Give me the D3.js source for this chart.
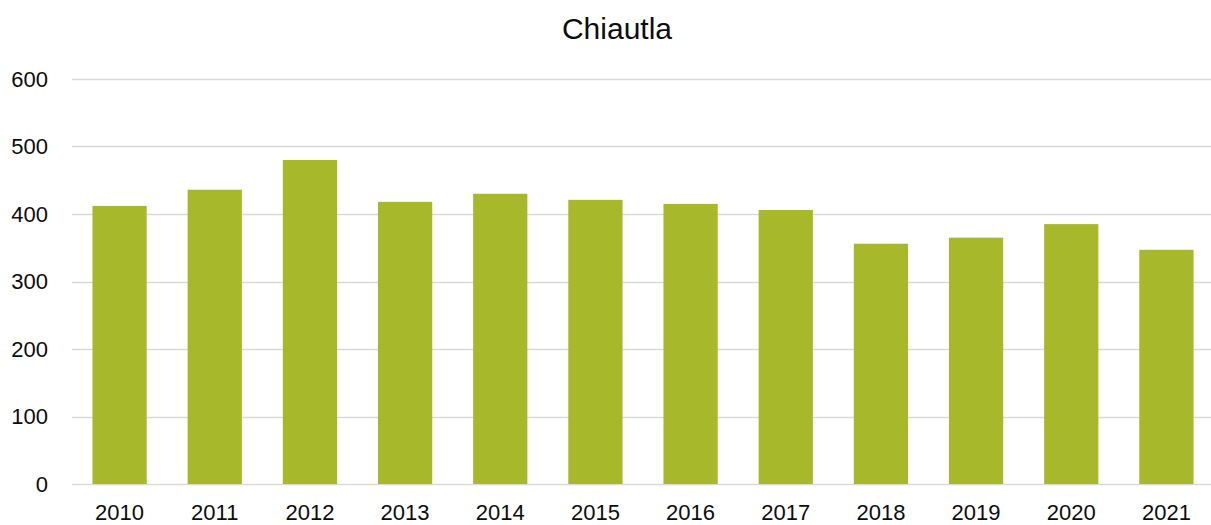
<!DOCTYPE html>
<html>
<head>
<meta charset="utf-8">
<script src="https://cdnjs.cloudflare.com/ajax/libs/d3/7.8.5/d3.min.js"></script>
<style>
  body { margin: 0; background: #fff; }
  text { font-family: "Liberation Sans", Arial, sans-serif; fill: #0d0d0d; }
</style>
</head>
<body>
<div id="chart"></div>
<script>
// chart data
var title = "Chiautla";
var years = ["2010", "2011", "2012", "2013", "2014", "2015", "2016", "2017", "2018", "2019", "2020", "2021"];
var values = [412, 436, 480, 418, 430, 421, 415, 406, 356, 365, 385, 347];
var yTicks = [0, 100, 200, 300, 400, 500, 600];

var svgWidth = 1211;
var svgHeight = 525;

var margin = { top: 79, right: -3, bottom: 41, left: 72 };
var width = svgWidth - margin.left - margin.right;
var height = svgHeight - margin.top - margin.bottom;

var svg = d3.select("#chart")
  .append("svg")
  .attr("width", svgWidth)
  .attr("height", svgHeight);

var chartGroup = svg.append("g")
  .attr("transform", `translate(${margin.left}, ${margin.top})`);

// scales
var xScale = d3.scaleBand()
  .domain(years)
  .range([0, width])
  .paddingInner(0.43)
  .paddingOuter(0.215);

var yScale = d3.scaleLinear()
  .domain([0, 600])
  .range([height, 0]);

// gridlines
chartGroup.append("g")
  .selectAll("line")
  .data(yTicks)
  .enter()
  .append("line")
  .attr("x1", 0)
  .attr("x2", width)
  .attr("y1", d => Math.round(yScale(d)) + 0.5)
  .attr("y2", d => Math.round(yScale(d)) + 0.5)
  .attr("stroke", "#d9d9d9")
  .attr("stroke-width", 1.5);

// bars
chartGroup.selectAll("rect")
  .data(values)
  .enter()
  .append("rect")
  .attr("x", (d, i) => xScale(years[i]))
  .attr("y", d => yScale(d))
  .attr("width", xScale.bandwidth())
  .attr("height", d => yScale(0) - yScale(d))
  .attr("fill", "#a7b82a");

// left axis
var leftAxis = d3.axisLeft(yScale)
  .tickValues(yTicks)
  .tickSize(0)
  .tickPadding(24);

var yAxisG = chartGroup.append("g").call(leftAxis);
yAxisG.select(".domain").remove();
yAxisG.selectAll("text")
  .style("font-size", "22px")
  .attr("fill", "#0d0d0d");

// bottom axis
var bottomAxis = d3.axisBottom(xScale)
  .tickSize(0)
  .tickPadding(20);

var xAxisG = chartGroup.append("g")
  .attr("transform", `translate(0, ${height})`)
  .call(bottomAxis);
xAxisG.select(".domain").remove();
xAxisG.selectAll("text")
  .style("font-size", "22px")
  .attr("fill", "#0d0d0d");

// title
svg.append("text")
  .attr("x", 617)
  .attr("y", 39)
  .attr("text-anchor", "middle")
  .style("font-size", "30px")
  .text(title);
</script>
</body>
</html>
